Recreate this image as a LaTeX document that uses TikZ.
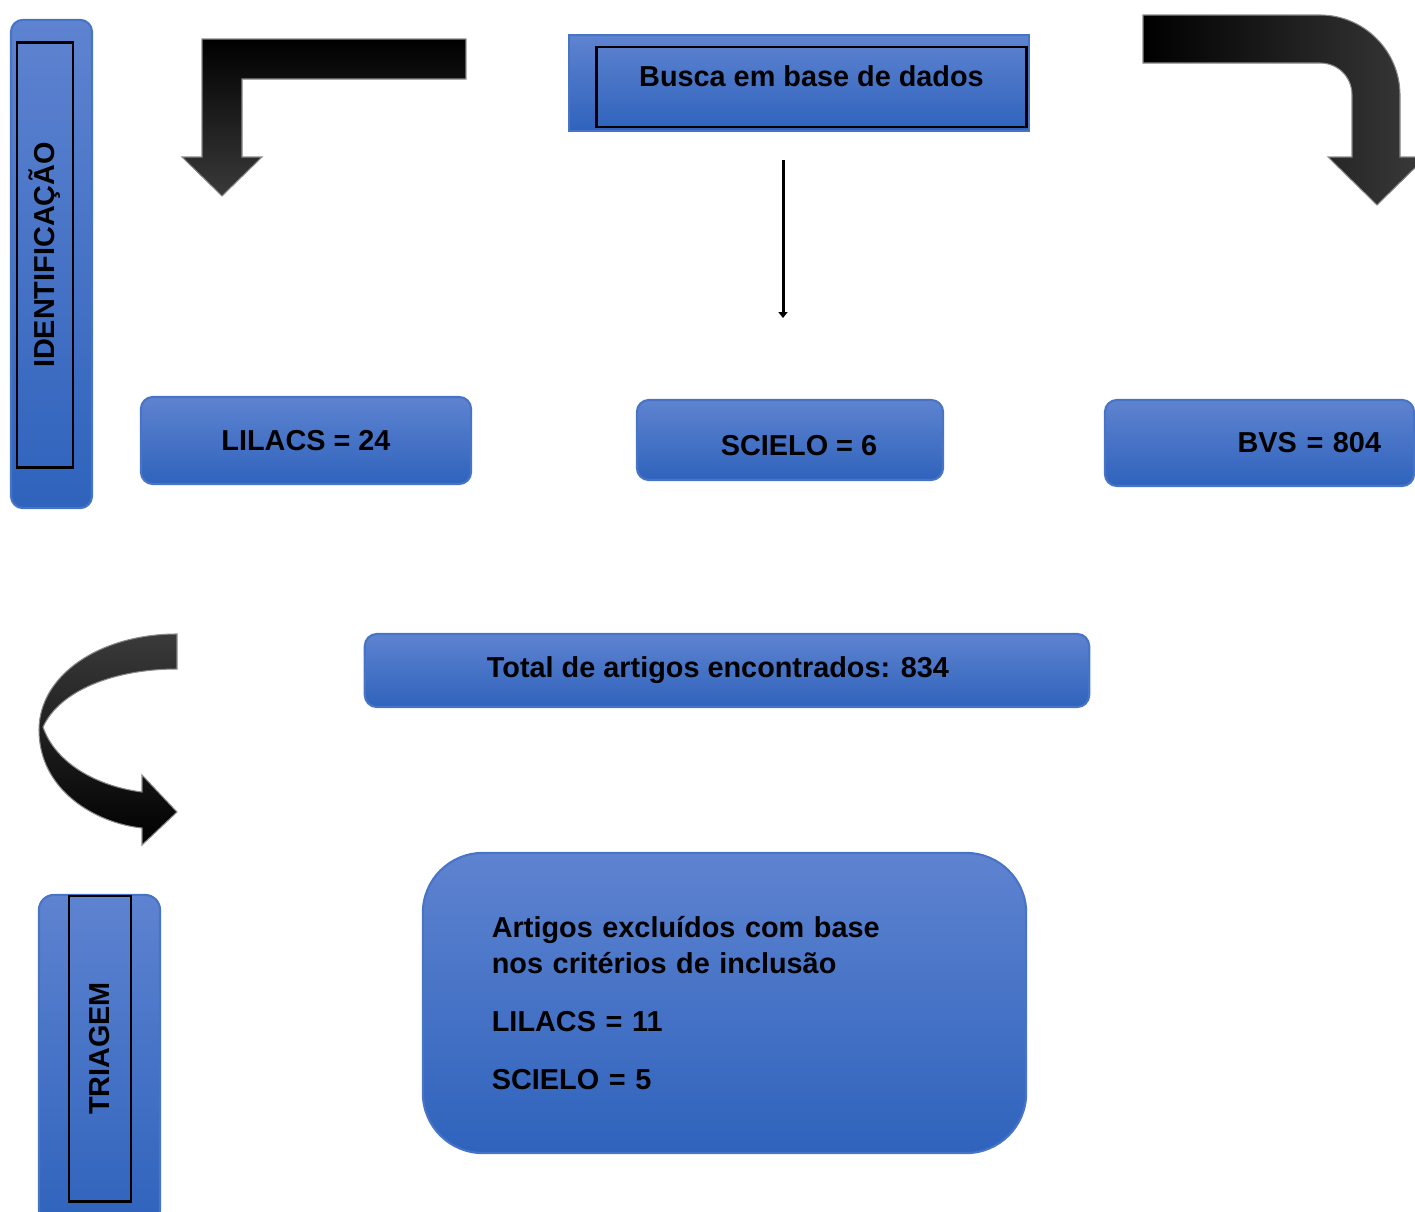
\documentclass[tikz,border=0pt]{standalone}
\usepackage{fontspec}
\setmainfont{Liberation Sans}
\usetikzlibrary{positioning,arrows.meta}
\definecolor{boxtop}{RGB}{94,131,208}
\definecolor{boxbot}{RGB}{47,99,188}
\definecolor{boxline}{RGB}{72,116,200}
\definecolor{arrowgray}{RGB}{58,58,58}
\tikzset{
  bluebox/.style={rounded corners=0.12cm, top color=boxtop, bottom color=boxbot,
    draw=boxline, line width=0.6pt, inner sep=0pt,
    font=\bfseries\fontsize{8.2}{10.2}\selectfont},
  framebox/.style={draw=black, line width=0.8pt, inner sep=0pt,
    font=\bfseries\fontsize{8.2}{10.2}\selectfont},
  blockarrow/.style={draw=arrowgray!60, line width=0.3pt},
  thinarrow/.style={line width=0.03cm, -{Triangle[width=0.09cm,length=0.06cm]}},
}
\begin{document}
\begin{tikzpicture}[x=0.01cm,y=-0.01cm]
\useasboundingbox (0,0) rectangle (1415,1212);

% side labels
\node[bluebox, minimum width=0.81cm, minimum height=4.88cm] (idbox) at (51.5,264) {};
\node[framebox, rotate=90, minimum width=4.24cm, minimum height=0.56cm] (idlabel) at (45,255) {IDENTIFICAÇÃO};

\node[bluebox, rounded corners=0.15cm, minimum width=1.21cm, minimum height=3.30cm] (tribox) at (99.5,1060) {};
\node[framebox, rotate=90, minimum width=3.05cm, minimum height=0.62cm] (trilabel) at (100,1048.5) {TRIAGEM};

% search box
\node[bluebox, rounded corners=0pt, minimum width=4.60cm, minimum height=0.96cm] (busca) at (799,83) {};
\node[framebox, minimum width=4.29cm, minimum height=0.80cm, text height=0.2cm, text depth=0.22cm] (buscain) at (811.5,87) {Busca em base de dados};

% databases
\node[bluebox, minimum width=3.30cm, minimum height=0.87cm] (lilacs) at (306,440.5) {LILACS = 24};
\node[bluebox, minimum width=3.06cm, minimum height=0.80cm, text height=0.5cm, text depth=0.2cm] (scielo) at (790,440) {\hspace{0.18cm}SCIELO = 6};
\node[bluebox, minimum width=3.09cm, minimum height=0.86cm, text width=2.43cm, align=right] (bvs) at (1259.5,443) {BVS = 804};

\node[bluebox, minimum width=7.24cm, minimum height=0.73cm] (total) at (727,670.5) {Total de artigos encontrados: 834\kern0.18cm};

\node[bluebox, rounded corners=0.6cm, minimum width=6.03cm, minimum height=3.00cm, text width=4.65cm, align=left] (excl) at (724.5,1003)
  {Artigos excluídos com base\\nos critérios de inclusão\\[6.3pt]LILACS = 11\\[6.3pt]SCIELO = 5};

% arrows
\coordinate (ds) at (783,160);
\coordinate (de) at (783,318);
\draw[thinarrow] (ds) -- (de);

\shade[blockarrow, top color=black, middle color=black, bottom color=arrowgray]
  (466,39) -- (202,39) -- (202,157) -- (182,157) -- (222,196) -- (262,157)
  -- (242,157) -- (242,79) -- (466,79) -- cycle;

\shade[blockarrow, left color=black, middle color=black, right color=arrowgray]
  (1143,15) -- (1320,15) .. controls (1364,15) and (1400,51) .. (1400,95)
  -- (1400,157) -- (1426,157) -- (1377,205) -- (1328,157) -- (1352,157)
  -- (1352,95) .. controls (1352,77) and (1338,63) .. (1320,63) -- (1143,63) -- cycle;

\shade[blockarrow, top color=arrowgray, middle color=black, bottom color=black]
  (177,634) .. controls (100,634) and (39,675) .. (39,730)
  .. controls (39,790) and (95,823) .. (142,828)
  -- (142,845) -- (177,812) -- (142,775) -- (142,792)
  .. controls (95,786) and (55,762) .. (43,727)
  .. controls (60,690) and (115,669) .. (177,669) -- cycle;
\end{tikzpicture}
\end{document}
